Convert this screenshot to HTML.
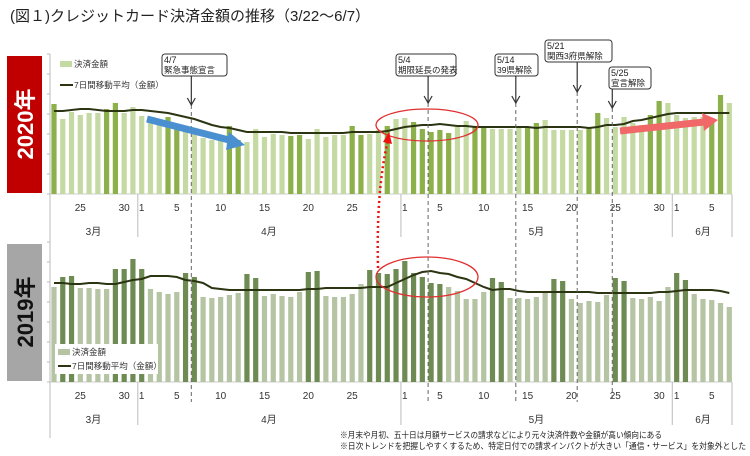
<!DOCTYPE html>
<html><head><meta charset="utf-8"><style>
body{margin:0;background:#fff;}
svg{display:block;font-family:"Liberation Sans","Noto Sans CJK JP",sans-serif;}
</style></head><body>
<svg id="chart" width="750" height="456" viewBox="0 0 750 456">
<text x="10" y="21" font-size="15" fill="#222">(図１)クレジットカード決済金額の推移（3/22～6/7）</text>
<rect x="7" y="56" width="35" height="137" fill="#c00000"/>
<text transform="translate(33,124) rotate(-90)" text-anchor="middle" font-size="22" font-weight="bold" fill="#fff">2020年</text>
<rect x="7" y="244" width="35" height="137" fill="#a6a6a6"/>
<text transform="translate(33,312) rotate(-90)" text-anchor="middle" font-size="22" font-weight="bold" fill="#111">2019年</text>
<g id="g2020"></g>
<g id="g2019"></g>
<g id="ann"></g>
<text x="340" y="438" font-size="8.5" fill="#222" textLength="322" lengthAdjust="spacingAndGlyphs">※月末や月初、五十日は月額サービスの請求などにより元々決済件数や金額が高い傾向にある</text>
<text x="340" y="449" font-size="8.5" fill="#222" textLength="406" lengthAdjust="spacingAndGlyphs">※日次トレンドを把握しやすくするため、特定日付での請求インパクトが大きい「通信・サービス」を対象外とした</text>
</svg>
<script>
const days=[22,23,24,25,26,27,28,29,30,31];for(let d=1;d<=30;d++)days.push(d);for(let d=1;d<=31;d++)days.push(d);for(let d=1;d<=7;d++)days.push(d);
const v2020=[90,75,82,79,81,81,85,91,81,87,78,72,69,77,69,64,62,56,54,58,68,54,52,65,57,60,59,58,59,55,65,57,59,59,68,59,60,64,68,75,76,72,65,62,64,61,67,73,67,67,65,65,65,67,66,71,74,64,64,64,64,66,81,76,67,77,71,69,79,93,91,79,76,77,77,76,99,91];
const dark2020=[1,0,0,0,0,0,1,1,0,0,0,0,0,1,1,0,0,0,0,0,1,1,0,0,0,0,0,1,1,0,0,0,0,0,1,1,0,0,1,0,0,1,1,1,1,1,0,0,1,1,0,0,0,0,1,1,0,0,0,0,0,1,1,0,0,0,0,0,1,1,0,0,0,0,0,1,1,0];
const ma2020=[83,83,84,85,85,84,83,83,83,84,84,83,82,81,79,77,75,72,69,67,66,64,62,62,62,62,62,61,61,61,61,61,61,61,62,62,62,62,63,65,67,68,69,69,70,69,68,68,67,67,67,67,67,67,67,66,67,67,67,67,67,66,67,69,69,70,73,74,76,78,80,81,81,81,81,81,81,81];
const v2019=[95,105,106,94,94,93,93,113,113,123,113,93,90,88,90,109,105,85,84,85,87,89,108,104,86,88,86,85,90,110,111,86,85,85,88,98,112,109,108,113,121,109,105,99,98,95,91,83,83,90,104,100,84,84,83,85,90,103,101,83,79,81,80,87,104,101,84,83,85,81,95,109,102,88,83,82,79,75];
const dark2019=[0,1,1,0,0,0,0,1,1,1,1,0,0,0,0,1,1,0,0,0,0,0,1,1,0,0,0,0,0,1,1,0,0,0,0,0,1,1,1,1,1,1,1,1,1,0,0,0,0,0,1,1,0,0,0,0,0,1,1,0,0,0,0,0,1,1,0,0,0,0,0,1,1,0,0,0,0,0];
const ma2019=[99,99,98,98,99,99,98,98,100,102,103,106,106,106,105,102,101,99,94,93,92,92,92,92,92,92,92,92,92,93,93,94,94,94,94,94,95,95,95,99,103,107,110,111,109,108,105,103,99,95,92,93,93,91,90,90,90,90,90,90,90,90,89,89,89,89,89,89,89,90,90,91,92,92,92,92,91,89];
const tickIdx=[3,8,10,14,19,24,29,34,40,44,49,54,59,64,69,71,75];
const months=[["3月",0,10],["4月",10,40],["5月",40,71],["6月",71,78]];
const NS="http://www.w3.org/2000/svg";
function mk(p,t,a){const e=document.createElementNS(NS,t);for(const k in a)e.setAttribute(k,a[k]);p.appendChild(e);return e;}
const X=i=>54+i*8.77;
function panel(g,base,vals,dark,ma,cl,cd,yr){
  const Y=v=>base-v;
  mk(g,'line',{x1:50,y1:base-140,x2:50,y2:base+56,stroke:'#bbb','stroke-width':1});
  for(let k=0;k<=7;k++){mk(g,'line',{x1:47,y1:base-k*20,x2:50,y2:base-k*20,stroke:'#bbb'});}
  mk(g,'line',{x1:50,y1:base,x2:732,y2:base,stroke:'#ccc'});
  vals.forEach((v,i)=>{
    const r=mk(g,'rect',{x:X(i)-2.6,y:Y(v),width:5.2,height:v,fill:dark[i]?cd:cl});
    
    
  });
  const p=mk(g,'path',{d:ma.map((v,i)=>(i?'L':'M')+X(i).toFixed(1)+','+Y(v)).join(''),fill:'none',stroke:'#2c3512','stroke-width':2});
  
  
  tickIdx.forEach(i=>{const t=mk(g,'text',{x:X(i),y:base+17,'text-anchor':'middle','font-size':10,fill:'#333'});t.textContent=days[i];
    
    });
  [[50],[X(9.5)+0.5],[X(39.5)+0.5],[X(70.5)],[732]].forEach(a=>mk(g,'line',{x1:a[0],y1:base,x2:a[0],y2:base+43,stroke:'#bbb'}));
  months.forEach(m=>{const t=mk(g,'text',{x:(X(m[1])+X(m[2]-1))/2,y:base+41,'text-anchor':'middle','font-size':10,fill:'#333'});t.textContent=m[0];
    
    });
}
const g1=document.getElementById('g2020'),g2=document.getElementById('g2019');
panel(g1,194,v2020,dark2020,ma2020,'#c4daa2','#8cb04a','2020');
panel(g2,382,v2019,dark2019,ma2019,'#b5c4a2','#6e8b54','2019');
mk(g1,'rect',{x:60,y:61,width:12,height:6,fill:'#c4daa2'});
let t=mk(g1,'text',{x:74,y:67,'font-size':8.5,fill:'#333'});t.textContent='決済金額';
mk(g1,'line',{x1:60,y1:85,x2:73,y2:85,stroke:'#2c3512','stroke-width':2});
t=mk(g1,'text',{x:74,y:88,'font-size':8.5,fill:'#333'});t.textContent='7日間移動平均（金額）';
mk(g2,'rect',{x:55,y:344,width:103,height:30,fill:'#fff'});
mk(g2,'rect',{x:58,y:349,width:12,height:6,fill:'#b5c4a2'});
t=mk(g2,'text',{x:72,y:355,'font-size':8.5,fill:'#333'});t.textContent='決済金額';
mk(g2,'line',{x1:58,y1:366,x2:71,y2:366,stroke:'#2c3512','stroke-width':2});
t=mk(g2,'text',{x:72,y:369,'font-size':8.5,fill:'#333'});t.textContent='7日間移動平均（金額）';
const ann=document.getElementById('ann');
const anns=[
 [16,162,54,65,22,["4/7","緊急事態宣言"],105],
 [43,396,54,60,22,["5/4","期限延長の発表"],103],
 [53,495,54,43,22,["5/14","39県解除"],103],
 [60,545,40,67,22,["5/21","関西3府県解除"],92],
 [64,609,67,42,22,["5/25","宣言解除"],108]
];
anns.forEach(a=>{const x=X(a[0])-3;
  mk(ann,'line',{x1:x,y1:a[6],x2:x,y2:402,stroke:'#666','stroke-dasharray':'4,3'});
  mk(ann,'line',{x1:x,y1:a[2]+a[4],x2:x,y2:a[6],stroke:'#333','stroke-width':1.2});
  mk(ann,'path',{d:`M${x-4},${a[6]-7}L${x},${a[6]}L${x+4},${a[6]-7}`,fill:'none',stroke:'#333','stroke-width':1.2});
  mk(ann,'rect',{x:a[1],y:a[2],width:a[3],height:a[4],rx:3,fill:'#fff',stroke:'#333'});
  let t1=mk(ann,'text',{x:a[1]+2,y:a[2]+9,'font-size':9,fill:'#222'});t1.textContent=a[5][0];
  let t2=mk(ann,'text',{x:a[1]+2,y:a[2]+19,'font-size':8.5,fill:'#222'});t2.textContent=a[5][1];
});
mk(ann,'ellipse',{cx:427,cy:125,rx:51,ry:16,fill:'none',stroke:'#e03030','stroke-width':1.3});
mk(ann,'ellipse',{cx:427,cy:277,rx:51,ry:20,fill:'none',stroke:'#e03030','stroke-width':1.3});
mk(ann,'path',{d:'M378,268 Q376,190 388,140',fill:'none',stroke:'#ee1111','stroke-width':2.5,'stroke-dasharray':'2,3'});
mk(ann,'path',{d:'M383,142L389,132L392,144Z',fill:'#ee1111'});
mk(ann,'path',{d:'M147,119 L233,141',stroke:'#4a90d0','stroke-width':7});
mk(ann,'path',{d:'M229,132L245,145L226,150Z',fill:'#4a90d0'});
mk(ann,'path',{d:'M620,131 L704,122',stroke:'#f06868','stroke-width':7});
mk(ann,'path',{d:'M702,113L718,120L704,131Z',fill:'#f06868'});
</script>
</body></html>
